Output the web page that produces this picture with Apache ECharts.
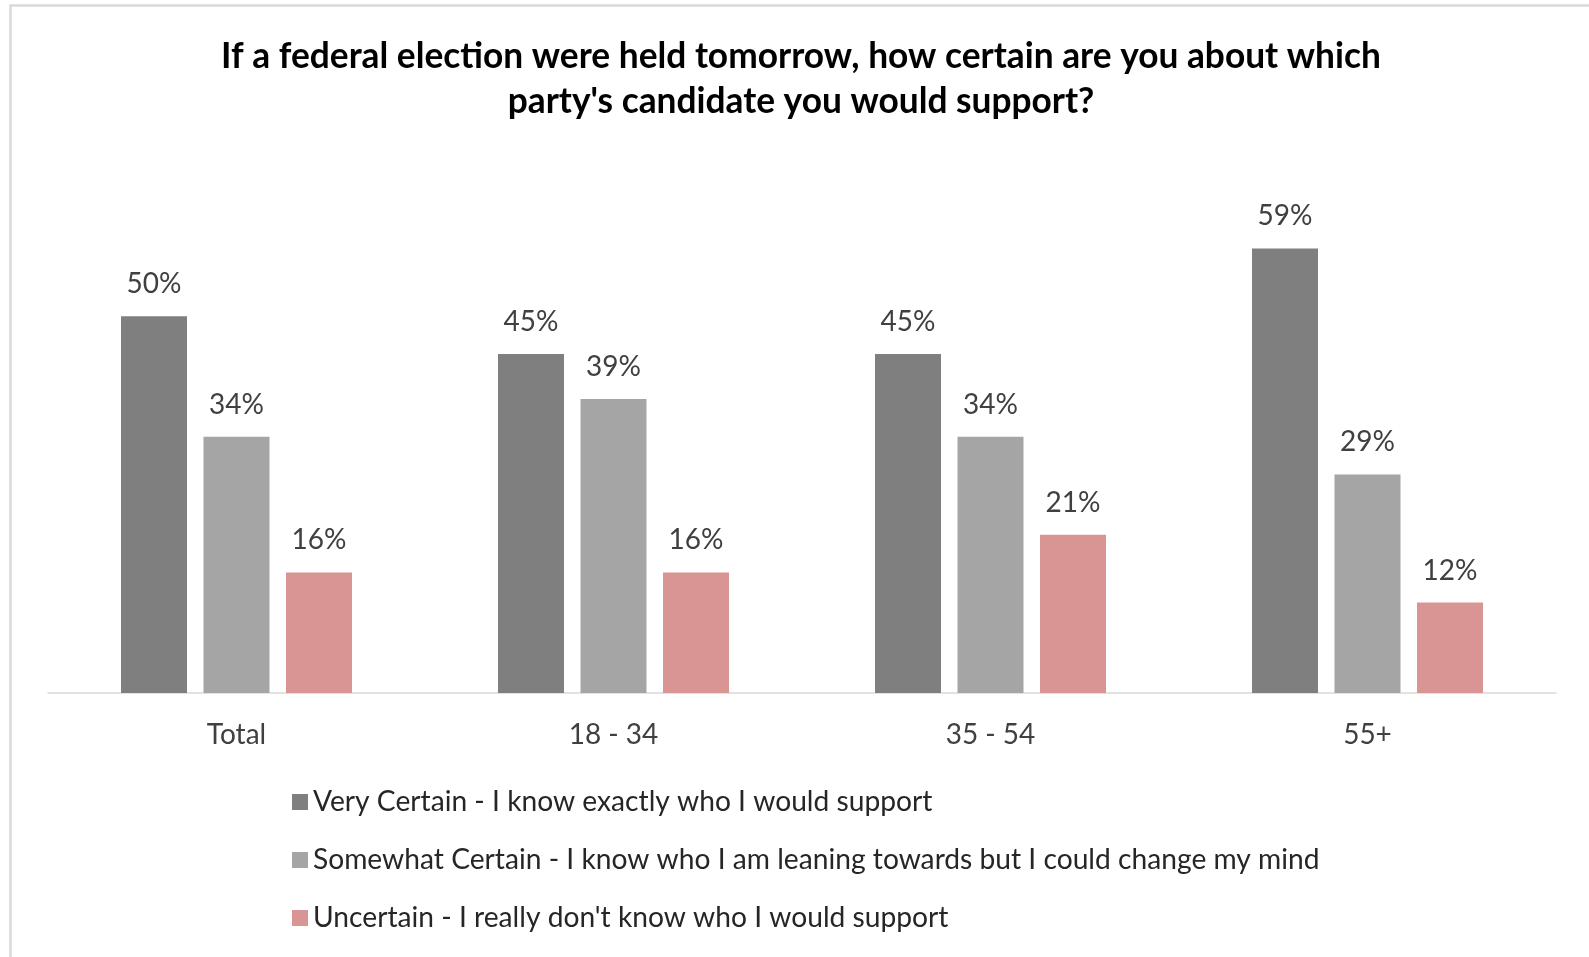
<!DOCTYPE html>
<html>
<head>
<meta charset="utf-8">
<script src="https://cdn.jsdelivr.net/npm/echarts@6/dist/echarts.min.js"></script>
<style>
html,body{margin:0;padding:0;background:#fff;}
#chart{width:1589px;height:957px;}
</style>
</head>
<body>
<div id="chart"></div>
<script>
const categories = ['Total', '18 - 34', '35 - 54', '55+'];
const seriesNames = [
  'Very Certain - I know exactly who I would support',
  'Somewhat Certain - I know who I am leaning towards but I could change my mind',
  "Uncertain - I really don't know who I would support"
];
const veryCertain = [50, 45, 45, 59];
const somewhatCertain = [34, 39, 34, 29];
const uncertain = [16, 16, 21, 12];
const titleText = "If a federal election were held tomorrow, how certain are you about which\nparty's candidate you would support?";

const FONT = 'Lato, "Open Sans", sans-serif';
const colors = ['#7f7f7f', '#a5a5a5', '#d99594'];

const chart = echarts.init(document.getElementById('chart'), null, {renderer: 'canvas'});

function barSeries(name, data, color) {
  return {
    name: name,
    type: 'bar',
    data: data,
    barWidth: 66,
    barGap: '25%',
    itemStyle: {color: color},
    label: {
      show: true,
      position: 'top',
      distance: 18,
      formatter: '{c}%',
      color: '#404040',
      fontFamily: FONT,
      fontSize: 28
    }
  };
}

chart.setOption({
  animation: false,
  backgroundColor: '#ffffff',
  color: colors,
  title: {
    text: titleText,
    left: 801,
    top: 34,
    padding: 0,
    textAlign: 'center',
    textStyle: {
      fontFamily: FONT,
      fontWeight: 'bold',
      fontSize: 35.3,
      lineHeight: 45,
      color: '#000000'
    }
  },
  legend: {
    orient: 'vertical',
    left: 292,
    top: 788,
    padding: 0,
    itemWidth: 16,
    itemHeight: 16,
    itemGap: 30,
    icon: 'rect',
    data: seriesNames,
    textStyle: {
      fontFamily: FONT,
      fontSize: 28.2,
      color: '#262626'
    }
  },
  grid: {
    left: 48,
    right: 33,
    top: 165.5,
    bottom: 264,
    containLabel: false
  },
  xAxis: {
    type: 'category',
    data: categories,
    axisLine: {lineStyle: {color: '#d9d9d9', width: 1.5}},
    axisTick: {show: false},
    axisLabel: {
      margin: 28,
      color: '#404040',
      fontFamily: FONT,
      fontSize: 28
    }
  },
  yAxis: {
    type: 'value',
    min: 0,
    max: 70,
    interval: 10,
    show: false,
    splitLine: {show: false}
  },
  graphic: [{
    type: 'rect',
    shape: {x: 10.5, y: 5.5, width: 1700, height: 1100},
    style: {fill: 'none', stroke: '#dadada', lineWidth: 2.5},
    silent: true
  }],
  series: [
    barSeries(seriesNames[0], veryCertain, colors[0]),
    barSeries(seriesNames[1], somewhatCertain, colors[1]),
    barSeries(seriesNames[2], uncertain, colors[2])
  ]
});
</script>
</body>
</html>
